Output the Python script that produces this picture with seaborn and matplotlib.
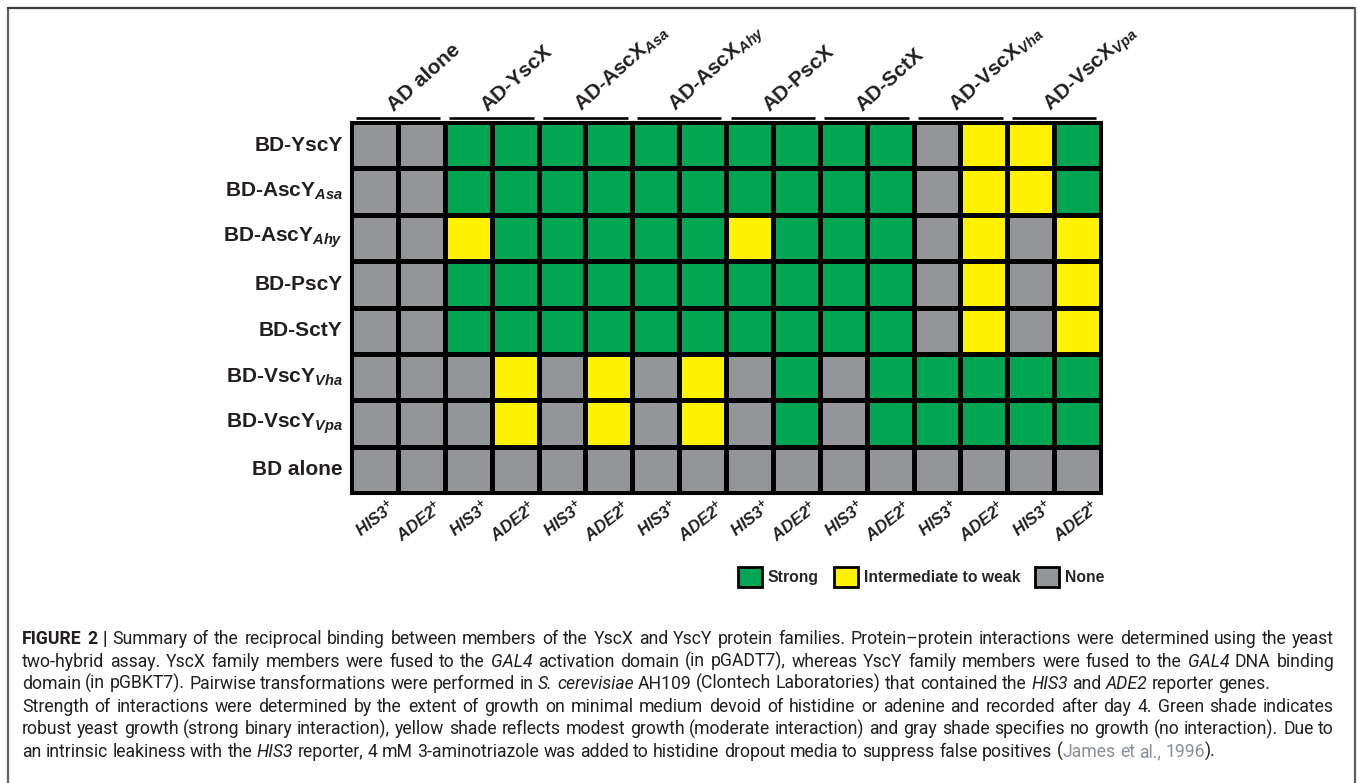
import matplotlib
matplotlib.use("Agg")
import matplotlib.pyplot as plt
from matplotlib.colors import ListedColormap
from matplotlib.patches import Patch
from matplotlib.lines import Line2D
from matplotlib.transforms import ScaledTranslation
from matplotlib import font_manager
import numpy as np
import pandas as pd
import seaborn as sns

# ---------------------------------------------------------------- data
bait_labels = [
    "BD-YscY", r"BD-AscY$_{Asa}$", r"BD-AscY$_{Ahy}$", "BD-PscY",
    "BD-SctY", r"BD-VscY$_{Vha}$", r"BD-VscY$_{Vpa}$", "BD alone",
]
prey_groups = [
    "AD alone", "AD-YscX", r"AD-AscX$_{Asa}$", r"AD-AscX$_{Ahy}$",
    "AD-PscX", "AD-SctX", r"AD-VscX$_{Vha}$", r"AD-VscX$_{Vpa}$",
]
reporters = [r"HIS3$^{+}$", r"ADE2$^{+}$"]
levels = ["None", "Intermediate to weak", "Strong"]
level_codes = ["N", "I", "S"]
level_colors = ["#939598", "#FFF200", "#00A651"]

# growth per BD bait across the 16 AD columns (HIS3/ADE2 pairs)
growth_yscy = "N N S S S S S S S S S S N I I S".split()
growth_ascy_asa = "N N S S S S S S S S S S N I I S".split()
growth_ascy_ahy = "N N I S S S S S I S S S N I N I".split()
growth_pscy = "N N S S S S S S S S S S N I N I".split()
growth_scty = "N N S S S S S S S S S S N I N I".split()
growth_vscy_vha = "N N N I N I N I N S N S S S S S".split()
growth_vscy_vpa = "N N N I N I N I N S N S S S S S".split()
growth_bd_alone = "N N N N N N N N N N N N N N N N".split()

growth_rows = [growth_yscy, growth_ascy_asa, growth_ascy_ahy, growth_pscy,
               growth_scty, growth_vscy_vha, growth_vscy_vpa, growth_bd_alone]

# ---------------------------------------------------------------- style
sns.set_style("white")
plt.rcParams["font.family"] = ["Liberation Sans", "DejaVu Sans"]
plt.rcParams["mathtext.fontset"] = "custom"
plt.rcParams["mathtext.rm"] = "Liberation Sans:bold"
plt.rcParams["mathtext.bf"] = "Liberation Sans:bold"
plt.rcParams["mathtext.it"] = "Liberation Sans:italic:bold"

W, H = 1358, 783
fig = plt.figure(figsize=(W / 100, H / 100), dpi=100)
ax = fig.add_axes([351 / W, 1 - 493 / H, 750 / W, 371 / H])

code_index = {c: i for i, c in enumerate(level_codes)}
matrix = np.array([[code_index[c] for c in row] for row in growth_rows])
col_labels = reporters * len(prey_groups)
df = pd.DataFrame(matrix, index=bait_labels)

sns.heatmap(df, ax=ax, cmap=ListedColormap(level_colors), vmin=-0.5, vmax=2.5,
            linewidths=2.2, linecolor="black", cbar=False,
            xticklabels=col_labels, yticklabels=bait_labels)
ax.set_xlabel("")
ax.set_ylabel("")
for s in ax.spines.values():
    s.set_visible(True)
    s.set_linewidth(2.2)
    s.set_color("black")

ax.tick_params(axis="both", length=0)
ax.tick_params(axis="y", pad=6)
ax.tick_params(axis="x", pad=3)
for lab in ax.get_yticklabels():
    lab.set_fontsize(15)
    lab.set_fontweight("bold")
    lab.set_rotation(0)
    lab.set_color("#231f20")
shift = ScaledTranslation(13 / 100, 0, fig.dpi_scale_trans)
for lab in ax.get_xticklabels():
    lab.set_fontsize(12)
    lab.set_fontweight("bold")
    lab.set_fontstyle("italic")
    lab.set_rotation(38)
    lab.set_ha("right")
    lab.set_va("top")
    lab.set_rotation_mode("anchor")
    lab.set_transform(lab.get_transform() + shift)
    lab.set_color("#231f20")

# group headers with their underline bars
for g, name in enumerate(prey_groups):
    ax.plot([2 * g + 0.1, 2 * g + 1.9], [-0.09, -0.09], color="black",
            lw=1.9, clip_on=False, solid_capstyle="butt")
    ax.text(2 * g + 0.92, -0.22, name, rotation=42, rotation_mode="anchor",
            ha="left", va="baseline", fontsize=15, fontweight="bold",
            color="#231f20", clip_on=False)

# legend
handles = [Patch(facecolor=c, edgecolor="black", linewidth=2) for c in reversed(level_colors)]
labels = list(reversed(levels))
fig.legend(handles, labels, loc="center left", bbox_to_anchor=(738 / W, 1 - 577 / H),
           ncol=3, frameon=False, handlelength=1.55, handleheight=1.65,
           handletextpad=0.35, columnspacing=0.95, borderpad=0, borderaxespad=0,
           prop={"weight": "bold", "size": 11.3})

# frame around the figure panel
frame_color = "#5f5f5f"
fig.add_artist(Line2D([8 / W, 8 / W], [0, 1 - 8 / H], transform=fig.transFigure, color=frame_color, lw=1.6))
fig.add_artist(Line2D([8 / W, 1355 / W], [1 - 8 / H, 1 - 8 / H], transform=fig.transFigure, color="#3c3c3c", lw=1.6))
fig.add_artist(Line2D([1355 / W, 1355 / W], [0, 1 - 8 / H], transform=fig.transFigure, color=frame_color, lw=1.6))

# ---------------------------------------------------------------- caption
def pick_family(names):
    for n in names:
        try:
            font_manager.findfont(font_manager.FontProperties(family=n), fallback_to_default=False)
            return n
        except Exception:
            continue
    return "DejaVu Sans"

cap_family = pick_family(["Liberation Sans Narrow", "Roboto", "Liberation Sans"])
ink = "#231f20"
cap_styles = {
    "normal": dict(color=ink),
    "bold": dict(color=ink, weight="bold"),
    "italic": dict(color=ink, style="italic"),
    "cite": dict(color="#8a8e9c"),
}
caption_lines = [
    ([("FIGURE 2 |", "bold"),
      (" Summary of the reciprocal binding between members of the YscX and YscY protein families. "
       "Protein\u2013protein interactions were determined using the yeast", "normal")], True),
    ([("two-hybrid assay. YscX family members were fused to the ", "normal"), ("GAL4", "italic"),
      (" activation domain (in pGADT7), whereas YscY family members were fused to the ", "normal"),
      ("GAL4", "italic"), (" DNA binding", "normal")], True),
    ([("domain (in pGBKT7). Pairwise transformations were performed in ", "normal"),
      ("S. cerevisiae", "italic"),
      (" AH109 (Clontech Laboratories) that contained the ", "normal"), ("HIS3", "italic"),
      (" and ", "normal"), ("ADE2", "italic"), (" reporter genes.", "normal")], False),
    ([("Strength of interactions were determined by the extent of growth on minimal medium devoid of "
       "histidine or adenine and recorded after day 4. Green shade indicates", "normal")], True),
    ([("robust yeast growth (strong binary interaction), yellow shade reflects modest growth "
       "(moderate interaction) and gray shade specifies no growth (no interaction). Due to", "normal")], True),
    ([("an intrinsic leakiness with the ", "normal"), ("HIS3", "italic"),
      (" reporter, 4 mM 3-aminotriazole was added to histidine dropout media to suppress false positives (",
       "normal"), ("James et al., 1996", "cite"), (").", "normal")], False),
]

renderer = fig.canvas.get_renderer()


def text_width(s, style, size):
    t = fig.text(0, 0, s, fontsize=size, family=cap_family, **cap_styles[style])
    w = t.get_window_extent(renderer).width
    t.remove()
    return w


def split_words(segments):
    words, cur = [], []
    for text, style in segments:
        parts = text.split(" ")
        for i, p in enumerate(parts):
            if i > 0 and cur:
                words.append(cur)
                cur = []
            if p:
                cur.append((p, style))
    if cur:
        words.append(cur)
    return words


x_left, x_right = 22, 1334
ref_size = 10.0
first_words = split_words(caption_lines[0][0])
nat = sum(text_width(p, s, ref_size) for w in first_words for p, s in w)
nat += (len(first_words) - 1) * (text_width("a a", "normal", ref_size) - text_width("aa", "normal", ref_size))
cap_size = ref_size * (x_right - x_left) * 0.985 / nat
space_w = text_width("a a", "normal", cap_size) - text_width("aa", "normal", cap_size)

baseline0, leading = 644, 22.6
for li, (segments, justify) in enumerate(caption_lines):
    words = split_words(segments)
    widths = [[text_width(p, s, cap_size) for p, s in w] for w in words]
    total = sum(sum(w) for w in widths)
    gap = (x_right - x_left - total) / (len(words) - 1) if justify else space_w
    x = x_left
    y = baseline0 + li * leading
    for w, ws in zip(words, widths):
        for (p, s), pw in zip(w, ws):
            fig.text(x / W, 1 - y / H, p, fontsize=cap_size, family=cap_family,
                     ha="left", va="baseline", **cap_styles[s])
            x += pw
        x += gap

fig.savefig("out.png", dpi=100)
